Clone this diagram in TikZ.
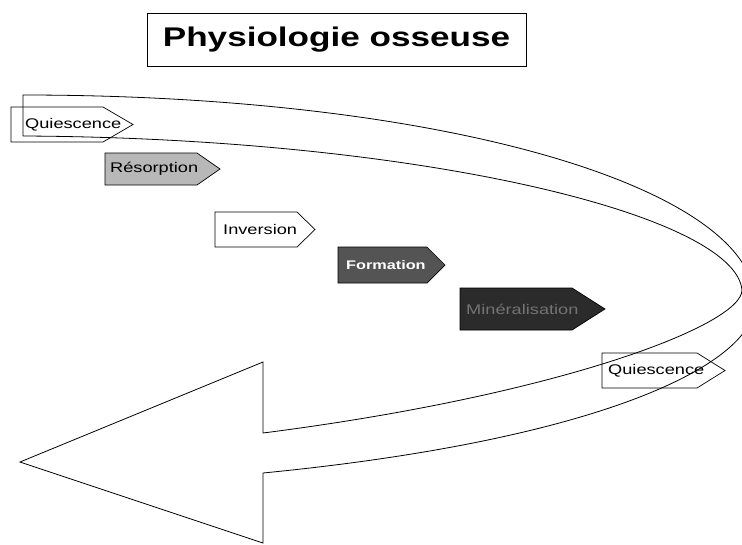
\documentclass[tikz,border=0pt]{standalone}
\usepackage{fontspec}
\setmainfont{Liberation Sans}[FakeStretch=1.3]
\definecolor{resorbgray}{gray}{0.72}
\definecolor{formgray}{gray}{0.33}
\definecolor{minergray}{gray}{0.17}
\definecolor{minertext}{gray}{0.45}
\tikzset{
band/.style={draw, line width=0.8pt, line join=miter}, % outline of the big curved arrow
tag/.style={draw, line width=0.7pt}, % phase tags
label/.style={inner sep=0pt, anchor=west, font=\fontsize{14}{16}\selectfont}, % phase names
titlebox/.style={draw, line width=1pt, minimum width=379pt, minimum height=53pt, inner sep=0pt, font=\fontsize{27}{30}\selectfont\bfseries},
}
\begin{document}
\begin{tikzpicture}[x=1pt, y=-1pt]
        \useasboundingbox (0,0) rectangle (742,544);
        \node[titlebox] (title) at (336.5,39.5) {Physiologie osseuse};

        % curved band ending in the big arrow head
        \draw[band] (23,136) -- (23,95)
        .. controls (450,95) and (760,190) .. (755,305)
        .. controls (752,365) and (600,440) .. (263,473)
        -- (263,543) -- (20,462) -- (263,362) -- (263,433)
        .. controls (560,395) and (742,325) .. (742,290)
        .. controls (735,215) and (420,138) .. (23,136);

        % phases
        \draw[tag] (11,107) -- (103,107) -- (133,124.5) -- (103,142) -- (11,142) -- cycle;
        \node[label] (quies1) at (25,124.5) {Quiescence};
        \draw[tag, fill=resorbgray] (105,153) -- (197,153) -- (220,169) -- (197,185) -- (105,185) -- cycle;
        \node[label] (resorb) at (110,169) {Résorption};
        \draw[tag, fill=white] (215,212) -- (297,212) -- (315,229.5) -- (297,247) -- (215,247) -- cycle;
        \node[label] (invers) at (223,229.5) {Inversion};
        \draw[tag, fill=formgray] (338,247) -- (427,247) -- (445,265) -- (427,283) -- (338,283) -- cycle;
        \node[label, text=white, font=\fontsize{12.5}{15}\selectfont\bfseries] (form) at (346,265) {Formation};
        \draw[tag, fill=minergray] (460,288) -- (572,288) -- (605,309) -- (572,330) -- (460,330) -- cycle;
        \node[label, text=minertext] (miner) at (466,309) {Minéralisation};
        \draw[tag] (602,353) -- (697,353) -- (725,370.5) -- (697,388) -- (602,388) -- cycle;
        \node[label] (quies2) at (608,370.5) {Quiescence};
      \end{tikzpicture}
\end{document}
